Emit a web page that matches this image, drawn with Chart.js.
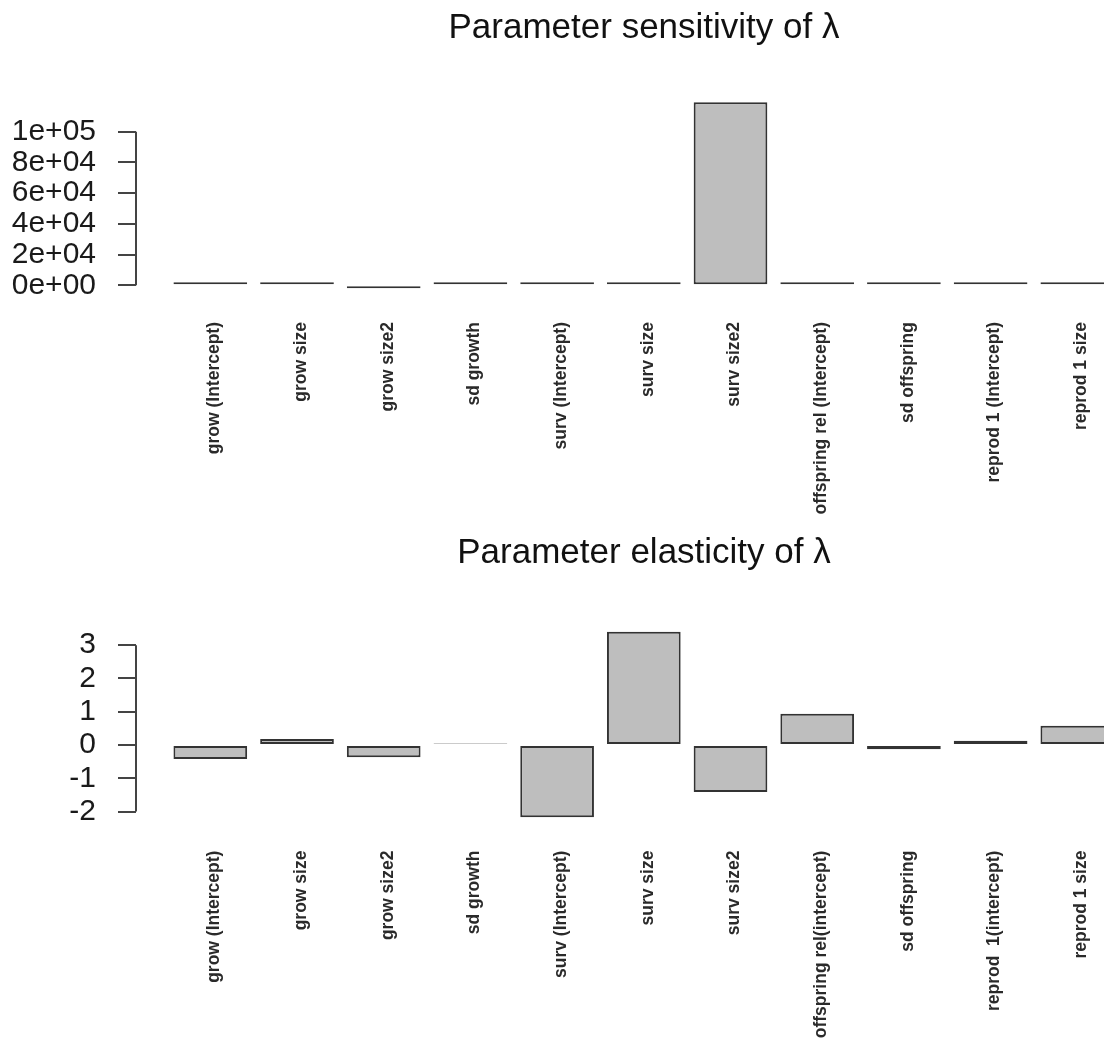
<!DOCTYPE html>
<html>
<head>
<meta charset="utf-8">
<script src="https://cdn.jsdelivr.net/npm/chart.js@4.4.1/dist/chart.umd.min.js"></script>
<style>
    html, body { margin: 0; padding: 0; background: #fff; overflow: hidden; width: 1104px; height: 1038px; }
    .plot { position: absolute; left: 0; }
</style>
</head>
<body>
<div class="plot" style="top:0px"><canvas id="sens" width="1288" height="525"></canvas></div>
<div class="plot" style="top:525px"><canvas id="elas" width="1288" height="513"></canvas></div>
<script>
// sensitivity (top panel)
const sensNames = ["grow (Intercept)", "grow size", "grow size2", "sd growth", "surv (Intercept)", "surv size", "surv size2", "offspring rel (Intercept)", "sd offspring", "reprod 1 (Intercept)", "reprod 1 size"];
const sensValues = [15, 40, -1400, 3, 25, 90, 119200, 8, 2, 12, 30];
const sensTicks = [0, 20000, 40000, 60000, 80000, 100000];
const sensTickLabels = ["0e+00", "2e+04", "4e+04", "6e+04", "8e+04", "1e+05"];

// elasticity (bottom panel)
const elasNames = ["grow (Intercept)", "grow size", "grow size2", "sd growth", "surv (Intercept)", "surv size", "surv size2", "offspring rel(intercept)", "sd offspring", "reprod  1(intercept)", "reprod 1 size"];
const elasValues = [-0.42, 0.18, -0.37, 0.01, -2.17, 3.40, -1.41, 0.94, -0.13, 0.13, 0.58];
const elasTicks = [-2, -1, 0, 1, 2, 3];
const elasTickLabels = ["-2", "-1", "0", "1", "2", "3"];

const FONT = "'Liberation Sans', Arial, sans-serif";
const AXIS = "#444";

// R style axis line: only between first and last tick
const axisLine = {
    id: "axisLine",
    afterDraw(chart) {
        let y = chart.scales.y;
        let ticks = y.ticks;
        let ctx = chart.ctx;
        let x = chart.chartArea.left;
        ctx.save();
        ctx.strokeStyle = AXIS;
        ctx.lineWidth = 2;
        ctx.beginPath();
        ctx.moveTo(x, y.getPixelForValue(ticks[0].value));
        ctx.lineTo(x, y.getPixelForValue(ticks[ticks.length - 1].value));
        ctx.stroke();
        ctx.restore();
    },
};

function makeChart(id, opts) {
    let names = opts.names;
    return new Chart(document.getElementById(id), {
        type: "bar",
        data: {
            datasets: [
                {
                    data: opts.values.map((v, i) => ({ x: i + 1, y: v })),
                    backgroundColor: "#bebebe",
                    borderColor: "#333",
                    borderWidth: 2,
                    borderSkipped: false,
                    minBarLength: opts.minBar,
                    categoryPercentage: 1,
                    barPercentage: 0.85,
                },
            ],
        },
        options: {
            responsive: false,
            devicePixelRatio: 1,
            animation: false,
            events: [],
            layout: { padding: 0 },
            plugins: {
                legend: { display: false },
                tooltip: { enabled: false },
                title: {
                    display: true,
                    text: opts.title,
                    color: "#111",
                    font: { family: FONT, size: 35, weight: "normal" },
                    padding: { top: opts.titleTop, bottom: opts.titleGap },
                },
            },
            scales: {
                x: {
                    type: "linear",
                    offset: false,
                    min: 0.143,
                    max: 13.43,
                    afterBuildTicks: (s) => {
                        s.ticks = names.map((n, i) => ({ value: i + 1 }));
                    },
                    afterFit: (s) => {
                        s.height = opts.xHeight;
                    },
                    grid: { display: false, drawTicks: false },
                    border: { display: false },
                    ticks: {
                        autoSkip: false,
                        minRotation: 90,
                        maxRotation: 90,
                        padding: opts.labelGap,
                        labelOffset: 4,
                        color: "#2a2a2a",
                        font: { family: FONT, size: 17.5, weight: "bold" },
                        callback: (v, i) => names[i],
                    },
                },
                y: {
                    min: opts.yMin,
                    max: opts.yMax,
                    afterBuildTicks: (s) => {
                        s.ticks = opts.ticks.map((t) => ({ value: t }));
                    },
                    afterFit: (s) => {
                        s.width = 136;
                    },
                    border: { display: false },
                    grid: {
                        drawOnChartArea: false,
                        drawTicks: true,
                        tickLength: 18,
                        color: AXIS,
                        lineWidth: 2,
                    },
                    ticks: {
                        padding: 22,
                        color: "#1a1a1a",
                        font: { family: FONT, size: 30 },
                        callback: (v, i) => opts.tickLabels[i],
                    },
                },
            },
        },
        plugins: [axisLine],
    });
}

makeChart("sens", {
    names: sensNames,
    values: sensValues,
    ticks: sensTicks,
    tickLabels: sensTickLabels,
    title: "Parameter sensitivity of λ",
    titleTop: 7.8,
    titleGap: 45.1,
    yMin: -6300,
    yMax: 124000,
    xHeight: 230,
    labelGap: 27,
    minBar: 3,
});

makeChart("elas", {
    names: elasNames,
    values: elasValues,
    ticks: elasTicks,
    tickLabels: elasTickLabels,
    title: "Parameter elasticity of λ",
    titleTop: 7.3,
    titleGap: 50.2,
    yMin: -2.39,
    yMax: 3.62,
    xHeight: 213.4,
    labelGap: 26,
    minBar: 1.5,
});
</script>
</body>
</html>
